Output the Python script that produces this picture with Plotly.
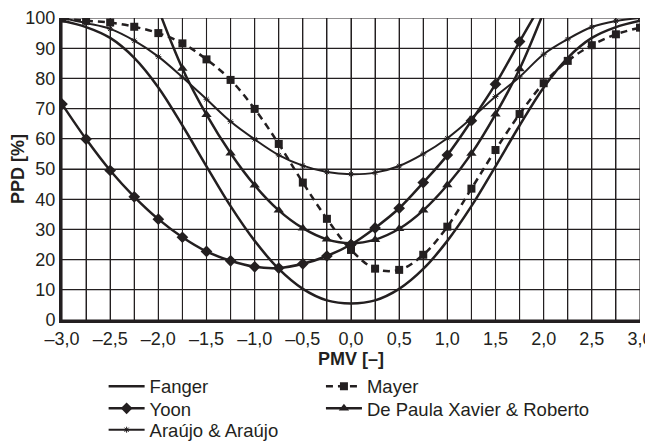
import plotly.graph_objects as go

# ---------------- data ----------------
pmv = [-3.0, -2.75, -2.5, -2.25, -2.0, -1.75, -1.5, -1.25, -1.0, -0.75, -0.5, -0.25,
       0.0, 0.25, 0.5, 0.75, 1.0, 1.25, 1.5, 1.75, 2.0, 2.25, 2.5, 2.75, 3.0]

fanger = [99.1, 97.0, 93.4, 86.8, 77.0, 64.4, 50.9, 37.7, 26.2, 16.9, 10.3, 6.5,
          5.5, 6.5, 10.3, 16.9, 26.2, 37.7, 50.9, 64.4, 77.0, 86.8, 93.4, 97.0, 99.1]

mayer = [99.8, 99.1, 98.5, 97.1, 95.0, 91.6, 86.3, 79.5, 69.9, 58.3, 45.5, 33.5,
         23.2, 17.0, 16.6, 21.6, 30.9, 43.5, 56.3, 68.2, 78.4, 85.8, 91.0, 94.6, 96.8]

yoon = [71.5, 59.9, 49.5, 40.8, 33.4, 27.4, 22.7, 19.6, 17.6, 17.2, 18.6, 21.2,
        25.0, 30.5, 37.0, 45.5, 54.6, 66.0, 78.1, 92.2, 106.0, None, None, None, None]

depaula = [None, None, None, None, 103.0, 83.3, 68.0, 55.2, 44.6, 36.3, 30.4, 26.7,
           25.4, 26.6, 30.2, 36.3, 44.7, 55.1, 68.1, 83.1, 102.0, None, None, None, None]

araujo = [100.0, 98.3, 96.4, 92.5, 87.2, 80.4, 73.1, 65.7, 59.8, 54.6, 51.1, 49.0,
          48.3, 48.8, 51.0, 55.0, 60.2, 66.8, 74.0, 80.5, 88.0, 93.0, 97.0, 99.0, 100.0]

series_names = ["Fanger", "Mayer", "Yoon", "De Paula Xavier & Roberto", "Araújo & Araújo"]

x_tick_values = [-3.0, -2.5, -2.0, -1.5, -1.0, -0.5, 0.0, 0.5, 1.0, 1.5, 2.0, 2.5, 3.0]
x_tick_labels = ["–3,0", "–2,5", "–2,0", "–1,5", "–1,0", "–0,5", "0,0",
                 "0,5", "1,0", "1,5", "2,0", "2,5", "3,0"]
y_tick_values = [0, 10, 20, 30, 40, 50, 60, 70, 80, 90, 100]
y_tick_labels = ["0", "10", "20", "30", "40", "50", "60", "70", "80", "90", "100"]

# ---------------- figure ----------------
INK = "#231f20"
FONT = "Liberation Sans, Arial, sans-serif"

fig = go.Figure()

fig.add_trace(go.Scatter(x=pmv, y=fanger, name=series_names[0], mode="lines",
                         line=dict(color=INK, width=2.5, shape="spline"),
                         legend="legend"))
fig.add_trace(go.Scatter(x=pmv, y=mayer, name=series_names[1], mode="lines+markers",
                         line=dict(color=INK, width=2.5, dash="7px,5px", shape="spline"),
                         marker=dict(symbol="square", size=8, color=INK),
                         legend="legend2"))
fig.add_trace(go.Scatter(x=pmv, y=yoon, name=series_names[2], mode="lines+markers",
                         line=dict(color=INK, width=2.5, shape="spline"),
                         marker=dict(symbol="diamond", size=9, color=INK),
                         connectgaps=False, legend="legend3"))
fig.add_trace(go.Scatter(x=pmv, y=depaula, name=series_names[3], mode="lines+markers",
                         line=dict(color=INK, width=2.5, shape="spline"),
                         marker=dict(symbol="triangle-up", size=9, color=INK),
                         connectgaps=False, legend="legend4"))
fig.add_trace(go.Scatter(x=pmv, y=araujo, name=series_names[4], mode="lines+markers",
                         line=dict(color=INK, width=2, shape="spline"),
                         marker=dict(symbol="asterisk-open", size=5,
                                     line=dict(color="#a8a8a8", width=1)),
                         legend="legend5"))

# grid every 0.25 on x; labels only every 0.5
grid_x = [v / 4 for v in range(-12, 13)]
label_map = dict(zip(x_tick_values, x_tick_labels))
grid_x_text = [label_map.get(v, "") for v in grid_x]

# grid lines as shapes tied to the axes
grid_shapes = []
for v in grid_x:
    grid_shapes.append(dict(type="line", xref="x", yref="paper", x0=v, x1=v, y0=0, y1=1,
                            layer="below", line=dict(color=INK, width=1.1)))
for v in y_tick_values:
    grid_shapes.append(dict(type="line", xref="paper", yref="y", x0=0, x1=1, y0=v, y1=v,
                            layer="below", line=dict(color=INK, width=1.1)))

legend_style = dict(orientation="v", yanchor="top", xanchor="left", itemwidth=36,
                    font=dict(family=FONT, size=18.5, color=INK),
                    bgcolor="rgba(0,0,0,0)", borderwidth=0, tracegroupgap=0)

col1, col2 = 0.072, 0.448
row1, row2, row3 = -0.158, -0.231, -0.302

fig.update_layout(
    template="none",
    # page body has an 8px default margin; size/margins compensate for it
    width=645, height=433,
    margin=dict(l=54, r=13, t=10, b=121, autoexpand=False),
    paper_bgcolor="white", plot_bgcolor="white",
    font=dict(family=FONT, size=18, color=INK),
    showlegend=True,
    legend=dict(x=col1, y=row1, **legend_style),
    legend2=dict(x=col2, y=row1, **legend_style),
    legend3=dict(x=col1, y=row2, **legend_style),
    legend4=dict(x=col2, y=row2, **legend_style),
    legend5=dict(x=col1, y=row3, **legend_style),
    shapes=grid_shapes,
    xaxis=dict(range=[-3, 3], tickmode="array", tickvals=grid_x, ticktext=grid_x_text,
               showgrid=True, gridcolor=INK, gridwidth=1, zeroline=False,
               showline=True, linecolor=INK, linewidth=3, ticks="", mirror=False,
               tickfont=dict(family=FONT, size=18, color=INK),
               title=dict(text="<b>PMV [–]</b>", font=dict(family=FONT, size=18, color=INK),
                          standoff=2)),
    yaxis=dict(range=[0, 100], tickmode="array", tickvals=y_tick_values, ticktext=y_tick_labels,
               showgrid=True, gridcolor=INK, gridwidth=1, zeroline=False,
               showline=True, linecolor=INK, linewidth=3, ticks="", mirror=False,
               tickfont=dict(family=FONT, size=18, color=INK)),
    annotations=[dict(text="<b>PPD [%]</b>", textangle=-90, xref="paper", yref="paper",
                      x=0, y=0.5, xanchor="center", yanchor="middle", xshift=-44,
                      showarrow=False, font=dict(family=FONT, size=18, color=INK))],
)

fig.write_html("out.html")
